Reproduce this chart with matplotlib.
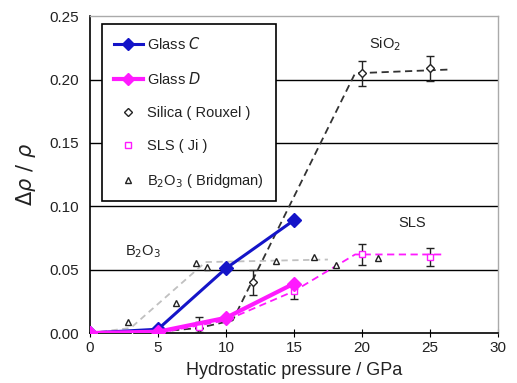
import matplotlib
matplotlib.use("Agg")
import matplotlib.pyplot as plt
from matplotlib.lines import Line2D

plt.rcParams['font.family'] = ['Liberation Sans', 'DejaVu Sans']

# Glass C and Glass D (this work)
press_glass = [0, 5, 10, 15]
glass_c = [0.0, 0.003, 0.051, 0.089]
glass_d = [0.0, 0.001, 0.012, 0.039]

# Silica (Rouxel) points with error bars and guide curve
silica_p = [8, 12, 20, 25]
silica_v = [0.004, 0.040, 0.205, 0.209]
silica_err = [0.009, 0.010, 0.010, 0.010]
silica_curve_p = [0, 5, 8, 10.5, 19.5, 26.5]
silica_curve_v = [0.0, 0.001, 0.004, 0.010, 0.205, 0.208]

# SLS (Ji) points with error bars and guide curve
sls_p = [8, 15, 20, 25]
sls_v = [0.005, 0.033, 0.062, 0.060]
sls_err = [0.004, 0.006, 0.008, 0.007]
sls_curve_p = [5, 10, 15, 19.5, 26]
sls_curve_v = [0.0, 0.010, 0.033, 0.062, 0.062]

# B2O3 (Bridgman) points and guide curve
b2o3_p = [2.8, 3.1, 6.3, 7.8, 8.6, 13.7, 16.5, 18.1, 21.2]
b2o3_v = [0.009, 0.000, 0.024, 0.055, 0.052, 0.057, 0.060, 0.054, 0.059]
b2o3_curve_p = [0, 3, 8.5, 17.5]
b2o3_curve_v = [0.0, 0.004, 0.056, 0.058]

x_ticks = [0, 5, 10, 15, 20, 25, 30]
y_ticks = [0.00, 0.05, 0.10, 0.15, 0.20, 0.25]

BLUE = '#1414c8'
MAGENTA = '#ff1aff'
TXT = '#222222'

fig = plt.figure(figsize=(5.17, 3.83), dpi=100)
ax = fig.add_axes([0.174, 0.1305, 0.789, 0.827])

# horizontal grid
for yv in y_ticks[1:-1]:
    ax.axhline(yv, color='black', lw=1.0, zorder=1)

# guide curves
ax.plot(b2o3_curve_p, b2o3_curve_v, ls=(0, (3.5, 2.5)), color='#c0c0c0', lw=1.3, zorder=2)
ax.plot(silica_curve_p, silica_curve_v, ls=(0, (4, 2.5)), color='#333333', lw=1.3, zorder=2)
ax.plot(sls_curve_p, sls_curve_v, ls=(0, (4, 2.5)), color=MAGENTA, lw=1.3, zorder=2)

# literature data
ax.errorbar(silica_p, silica_v, yerr=silica_err, fmt='D', ms=4, mfc='white',
            mec='#222222', mew=1.0, ecolor='#222222', elinewidth=1.0, capsize=3, zorder=4)
ax.errorbar(sls_p, sls_v, yerr=sls_err, fmt='s', ms=5, mfc='white',
            mec=MAGENTA, mew=1.0, ecolor='#222222', elinewidth=1.0, capsize=3, zorder=4)
ax.plot(b2o3_p, b2o3_v, ls='none', marker='^', ms=5, mfc='white', mec='#222222', mew=1.0, zorder=4)

# this work
ax.plot(press_glass, glass_c, color=BLUE, lw=2.2, marker='D', ms=7, zorder=5)
ax.plot(press_glass, glass_d, color=MAGENTA, lw=3.0, marker='D', ms=7, zorder=5)

ax.text(21.7, 0.228, 'SiO$_2$', fontsize=10.5, color=TXT, ha='center', va='center')
ax.text(23.7, 0.087, 'SLS', fontsize=10.5, color=TXT, ha='center', va='center')
ax.text(3.9, 0.064, 'B$_2$O$_3$', fontsize=10.5, color=TXT, ha='center', va='center')

ax.set_xlim(0, 30)
ax.set_ylim(0, 0.25)
ax.set_xticks(x_ticks)
ax.set_yticks(y_ticks)
ax.set_yticklabels([f'{v:.2f}' for v in y_ticks])
ax.tick_params(axis='x', direction='inout', length=6, color='black', labelsize=11,
               labelcolor=TXT, pad=3)
ax.tick_params(axis='y', length=0, labelsize=11, labelcolor=TXT, pad=8)

for s in ['left', 'bottom']:
    ax.spines[s].set_color('black')
    ax.spines[s].set_linewidth(1.2)
for s in ['top', 'right']:
    ax.spines[s].set_color('#aaaaaa')
    ax.spines[s].set_linewidth(1.0)

ax.set_xlabel('Hydrostatic pressure / GPa', fontsize=13, color=TXT, labelpad=5)
ax.set_ylabel(r'$\Delta\rho\ /\ \rho$', fontsize=15, color=TXT, labelpad=8)

handles = [
    Line2D([], [], color=BLUE, lw=2.2, marker='D', ms=6),
    Line2D([], [], color=MAGENTA, lw=3.0, marker='D', ms=6),
    Line2D([], [], ls='none', marker='D', ms=4, mfc='white', mec='#222222'),
    Line2D([], [], ls='none', marker='s', ms=5, mfc='white', mec=MAGENTA),
    Line2D([], [], ls='none', marker='^', ms=5, mfc='white', mec='#222222'),
]
labels = ['Glass $C$', 'Glass $D$', 'Silica ( Rouxel )', 'SLS ( Ji )',
          'B$_2$O$_3$ ( Bridgman)']
leg = ax.legend(handles, labels, loc='upper left', bbox_to_anchor=(0.03, 0.975),
                frameon=True, fancybox=False, edgecolor='black', framealpha=1,
                fontsize=10.5, labelspacing=1.3, handlelength=2.0, handletextpad=0.3,
                borderpad=0.8, borderaxespad=0)
leg.get_frame().set_linewidth(1.2)
for t in leg.get_texts():
    t.set_color(TXT)
leg.set_zorder(10)

fig.savefig('out.png', dpi=100)
